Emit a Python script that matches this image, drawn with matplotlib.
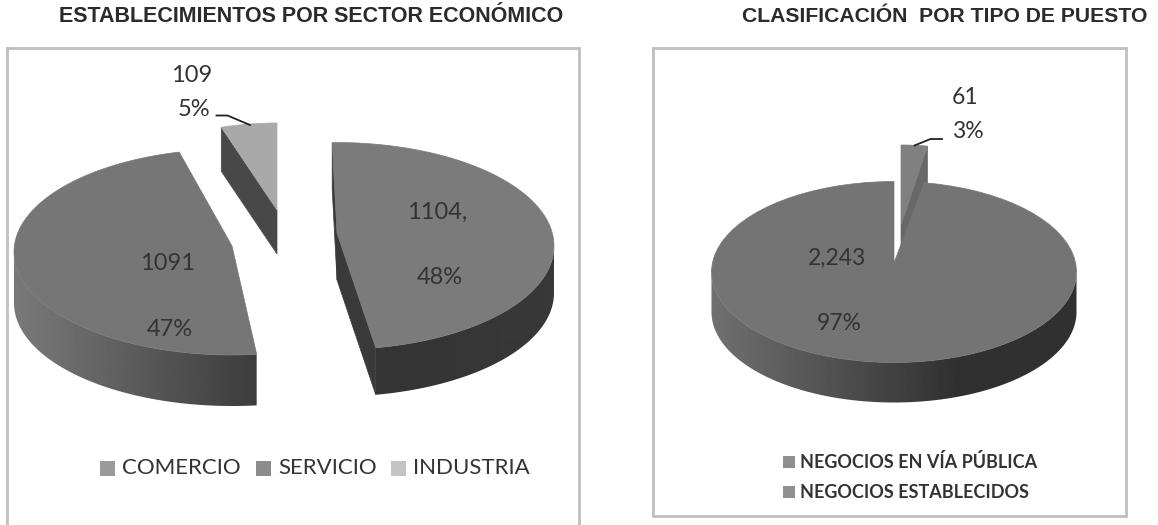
import matplotlib
matplotlib.use("Agg")
import matplotlib.pyplot as plt
from matplotlib.patches import Polygon, Rectangle
import numpy as np

# left chart
sector_names = ["COMERCIO", "SERVICIO", "INDUSTRIA"]
sector_values = [1104, 1091, 109]
sector_counts = ["1104,", "1091", "109"]
sector_pcts = ["48%", "47%", "5%"]

# right chart
puesto_names = ["NEGOCIOS EN VÍA PÚBLICA", "NEGOCIOS ESTABLECIDOS"]
puesto_values = [61, 2243]
puesto_counts = ["61", "2,243"]
puesto_pcts = ["3%", "97%"]

fig = plt.figure(figsize=(11.58, 5.25), dpi=100)
ax = fig.add_axes([0, 0, 1, 1])
ax.set_xlim(0, 1158)
ax.set_ylim(525, 0)
ax.axis("off")


def sweep(values, start):
    # clockwise start/end angle of every slice, degrees
    edges = start - np.cumsum([0] + list(values)) / sum(values) * 360
    return list(zip(edges[:-1], edges[1:]))


def arc(cx, cy, a, b, t1, t2, n=80):
    t = np.radians(np.linspace(t1, t2, n))
    return np.column_stack([cx + a * np.cos(t), cy - b * np.sin(t)])


def wall(cx, cy, a, b, depth, t1, t2, g1, g2, x1, x2, z):
    # outer rim of a slice, shaded left to right between x1 and x2, flat outside
    pts = arc(cx, cy, a, b, t1, t2, 160)
    outline = np.vstack([pts, pts[::-1] + [0, depth]])
    shape = Polygon(outline, closed=True, fc="none", ec="none", transform=ax.transData)
    ax.add_patch(shape)
    grad = np.interp(np.arange(1158), [x1, x2], [g1, g2]).reshape(1, -1)
    im = ax.imshow(grad, cmap="gray", vmin=0, vmax=255, aspect="auto", interpolation="bilinear",
                   extent=[0, 1158, 525, 0], zorder=z)
    im.set_clip_path(shape)
    ax.set_xlim(0, 1158)
    ax.set_ylim(525, 0)


def top(cx, cy, a, b, t1, t2, tip, col, z):
    pts = np.vstack([arc(cx, cy, a, b, t1, t2), [tip]])
    ax.add_patch(Polygon(pts, closed=True, fc=col, ec=col, lw=0.5, zorder=z))


def cut(tip, corner, depth, col, z):
    tip = np.array(tip, float)
    corner = np.array(corner, float)
    ax.add_patch(Polygon([tip, corner, corner + [0, depth], tip + [0, depth]], closed=True,
                         fc=col, ec=col, lw=0.5, zorder=z))


def edge(cx, cy, a, b, t):
    return arc(cx, cy, a, b, t, t, 1)[0]


# ---- left pie
(com1, com2), (ser1, ser2), (ind1, ind2) = sweep(sector_values, 91)

# comercio (+2 deg: the 3d view foreshortens the front edge)
com2 += 2
cx, cy, a, b, d = 336, 246, 218, 103.5, 47
tip = (337, 233)
cut(tip, edge(cx, cy, a, b, com2), d, "#3a3a3a", 2)
cut(tip, edge(cx, cy, a, b, com1), d, "#3a3a3a", 1)
wall(cx, cy, a, b, d, 0, com2, 52, 56, 375, 554, 2)
top(cx, cy, a, b, com1, com2, tip, "#7b7b7b", 3)

# servicio
ser1 -= 2
ser2 -= 4
cx, cy, a, b, d = 232, 252, 218, 103, 51
wall(cx, cy, a, b, d, -180, ser1, 122, 60, 14, 258, 2)
top(cx, cy, a, b, ser1, ser2, (232, 246), "#767676", 3)

# industria
ind2 -= 1
cx, cy, a, b, d = 277, 210, 180, 87, 44
corner = edge(cx, cy, a, b, ind1)
cut((cx, cy), corner, d, "#484848", 2)
top(cx, cy, a, b, ind1, ind2, (cx, cy), "#a9a9a9", 3)

# ---- right pie
(pub1, pub2), (est1, est2) = sweep(puesto_values, 90)

# small slice sits behind the big one
cx, cy, a, b, d = 901, 225, 160, 80, 36
cut((cx, cy), edge(cx, cy, a, b, pub2), d, "#686868", 2)
top(cx, cy, a, b, pub1, pub2, (cx, cy), "#808080", 3)

cx, cy, a, b, d = 894, 272, 182.5, 90.5, 40
wall(cx, cy, a, b, d, -180, 0, 112, 48, 712, 960, 4)
top(cx, cy, a, b, est1, est2, (894, 263), "#747474", 5)

# leader lines
ax.plot([216.5, 227.5, 250], [115.5, 115.5, 125], color="#222222", lw=1.3, zorder=6)
ax.plot([942, 930.5, 914.5], [139, 139, 145.5], color="#222222", lw=1.3, zorder=6)

# data labels
lab = dict(family="Lato", fontsize=17, color="#333333", ha="center", va="center", zorder=7)
ax.text(437.6, 212, sector_counts[0], **lab)
ax.text(440, 277, sector_pcts[0], **lab)
ax.text(168, 264, sector_counts[1], **lab)
ax.text(170, 330, sector_pcts[1], **lab)
ax.text(191.7, 76, sector_counts[2], **lab)
ax.text(194, 109.5, sector_pcts[2], **lab)
lab["fontsize"] = 16.5
ax.text(965, 98, puesto_counts[0], **lab)
ax.text(968, 132, puesto_pcts[0], **lab)
ax.text(837, 258, puesto_counts[1], **lab)
ax.text(839, 323, puesto_pcts[1], **lab)

# titles
ttl = dict(family="Liberation Sans", fontweight="bold", color="#2b2b2b", va="center")
ax.text(59, 17, "ESTABLECIMIENTOS POR SECTOR ECONÓMICO", fontsize=15.5, **ttl)
ax.text(742, 17, "CLASIFICACIÓN  POR TIPO DE PUESTO", fontsize=15.2, **ttl)

# chart frames
ax.plot([7, 7], [525, 48], color="#bfbfbf", lw=2)
ax.plot([7, 579], [48, 48], color="#bfbfbf", lw=2)
ax.plot([579, 579], [48, 525], color="#bfbfbf", lw=2)
ax.add_patch(Rectangle((652.5, 48), 473.5, 467.5, fc="none", ec="#bfbfbf", lw=2))

# legends
leg = dict(family="Lato", fontsize=16, color="#333333", va="center")
for name, sx, col in zip(sector_names, [100, 256, 391], ["#9a9a9a", "#8c8c8c", "#c4c4c4"]):
    ax.add_patch(Rectangle((sx, 461), 15, 14.5, fc=col, ec="none"))
    ax.text(sx + 22, 468, name, **leg)

leg = dict(family="Lato", fontsize=13, fontweight="bold", color="#333333", va="center")
for name, sy in zip(puesto_names, [456, 486]):
    ax.add_patch(Rectangle((783, sy), 11.5, 12, fc="#8f8f8f", ec="none"))
    ax.text(800, sy + 6, name, **leg)

plt.savefig("out.png", dpi=100)
plt.close()
